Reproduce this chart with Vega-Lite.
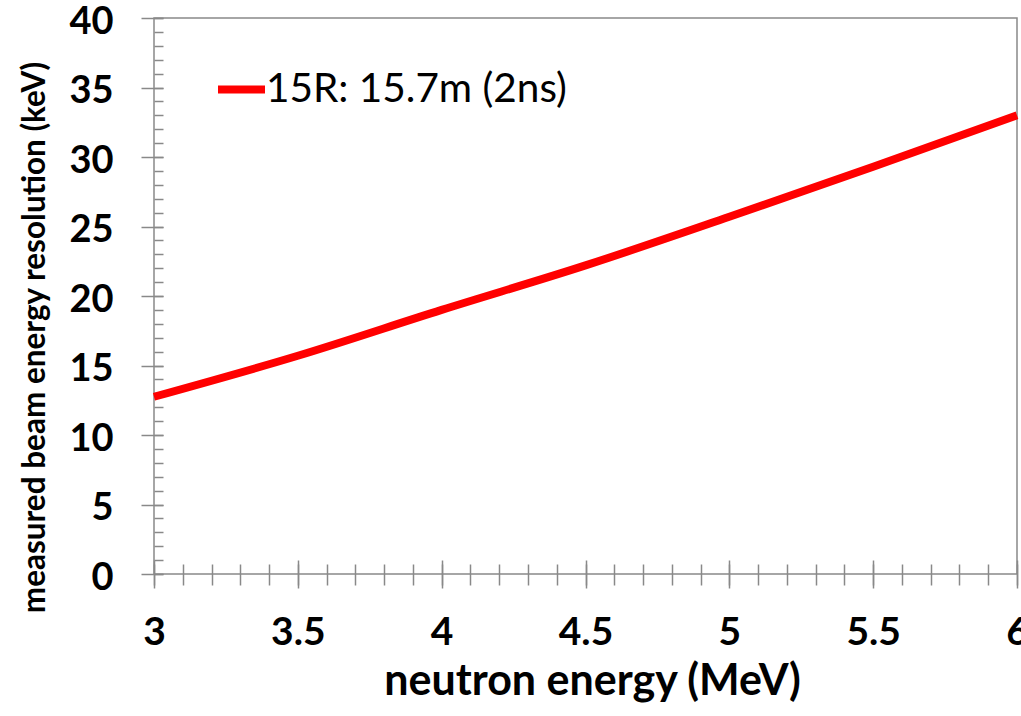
{
  "$schema": "https://vega.github.io/schema/vega-lite/v6.json",
  "width": 863,
  "height": 556,
  "autosize": {"type": "none"},
  "padding": {"left": 154, "top": 18, "right": 4, "bottom": 142},
  "background": "white",
  "config": {
    "font": "Lato",
    "view": {"stroke": "#898989", "strokeWidth": 1.5}
  },
  "data": {
    "values": [
      {"energy": 3.0, "resolution": 12.75, "series": "15R: 15.7m (2ns)"},
      {"energy": 3.5, "resolution": 15.7, "series": "15R: 15.7m (2ns)"},
      {"energy": 4.0, "resolution": 19.0, "series": "15R: 15.7m (2ns)"},
      {"energy": 4.5, "resolution": 22.2, "series": "15R: 15.7m (2ns)"},
      {"energy": 5.0, "resolution": 25.7, "series": "15R: 15.7m (2ns)"},
      {"energy": 5.5, "resolution": 29.3, "series": "15R: 15.7m (2ns)"},
      {"energy": 6.0, "resolution": 33.0, "series": "15R: 15.7m (2ns)"}
    ]
  },
  "layer": [
    {
      "mark": {"type": "line", "opacity": 0},
      "encoding": {
        "x": {
          "field": "energy", "type": "quantitative",
          "scale": {"domain": [3, 6], "nice": false, "zero": false},
          "axis": {
            "orient": "bottom", "offset": -10, "tickSize": 21,
            "tickColor": "#898989", "tickWidth": 1.5,
            "domain": false, "grid": false, "labels": false, "title": null,
            "values": [3.0, 3.1, 3.2, 3.3, 3.4, 3.5, 3.6, 3.7, 3.8, 3.9, 4.0, 4.1, 4.2, 4.3, 4.4, 4.5, 4.6, 4.7, 4.8, 4.9, 5.0, 5.1, 5.2, 5.3, 5.4, 5.5, 5.6, 5.7, 5.8, 5.9, 6.0]
          }
        },
        "y": {
          "field": "resolution", "type": "quantitative",
          "scale": {"domain": [0, 40], "nice": false},
          "axis": {
            "orient": "left", "offset": -9, "tickSize": 9,
            "tickColor": "#898989", "tickWidth": 1.5,
            "domain": false, "grid": false, "labels": false, "title": null,
            "values": [0, 1, 2, 3, 4, 5, 6, 7, 8, 9, 10, 11, 12, 13, 14, 15, 16, 17, 18, 19, 20, 21, 22, 23, 24, 25, 26, 27, 28, 29, 30, 31, 32, 33, 34, 35, 36, 37, 38, 39, 40]
          }
        }
      }
    },
    {
      "mark": {"type": "line", "strokeWidth": 8, "interpolate": "monotone", "strokeCap": "butt"},
      "encoding": {
        "x": {
          "field": "energy", "type": "quantitative",
          "scale": {"domain": [3, 6], "nice": false, "zero": false},
          "axis": {
            "orient": "bottom", "offset": -14, "tickSize": 28,
            "tickColor": "#898989", "tickWidth": 1.5,
            "domain": false, "grid": false,
            "values": [3, 3.5, 4, 4.5, 5, 5.5, 6], "format": "~g",
            "labelFont": "Lato", "labelFontWeight": "bold", "labelFontSize": 39,
            "labelColor": "black", "labelPadding": 25, "labelOverlap": false,
            "labelFlush": false, "labelBound": false,
            "title": "neutron energy (MeV)",
            "titleFont": "Lato", "titleFontWeight": "bold", "titleFontSize": 43,
            "titleColor": "black", "titleX": 438, "titleY": 134,
            "titleAlign": "center", "titleBaseline": "alphabetic", "titleAnchor": null
          }
        },
        "y": {
          "field": "resolution", "type": "quantitative",
          "scale": {"domain": [0, 40], "nice": false},
          "axis": {
            "orient": "left", "offset": -9, "tickSize": 22,
            "tickColor": "#898989", "tickWidth": 1.5,
            "domain": false, "grid": false,
            "values": [0, 5, 10, 15, 20, 25, 30, 35, 40],
            "labelFont": "Lato", "labelFontWeight": "bold", "labelFontSize": 38,
            "labelColor": "black", "labelPadding": 28, "labelOffset": 4, "labelOverlap": false,
            "labelFlush": false, "labelBound": false,
            "title": "measured beam energy resolution (keV)",
            "titleFont": "Lato", "titleFontWeight": "bold", "titleFontSize": 31.5,
            "titleColor": "black", "titleAngle": -90, "titleX": -128, "titleY": 319,
            "titleAlign": "center", "titleBaseline": "middle", "titleAnchor": null
          }
        },
        "color": {
          "field": "series", "type": "nominal",
          "scale": {"range": ["#ff0000"]},
          "legend": {
            "title": null, "orient": "none", "legendX": 60, "legendY": 44,
            "padding": 0, "symbolType": "stroke", "symbolSize": 2209,
            "symbolStrokeWidth": 8, "symbolStrokeColor": "#ff0000",
            "labelFont": "Lato", "labelFontSize": 40.5, "labelColor": "black",
            "labelOffset": -3, "labelLimit": 700
          }
        }
      }
    }
  ],
  "resolve": {"axis": {"x": "independent", "y": "independent"}}
}
